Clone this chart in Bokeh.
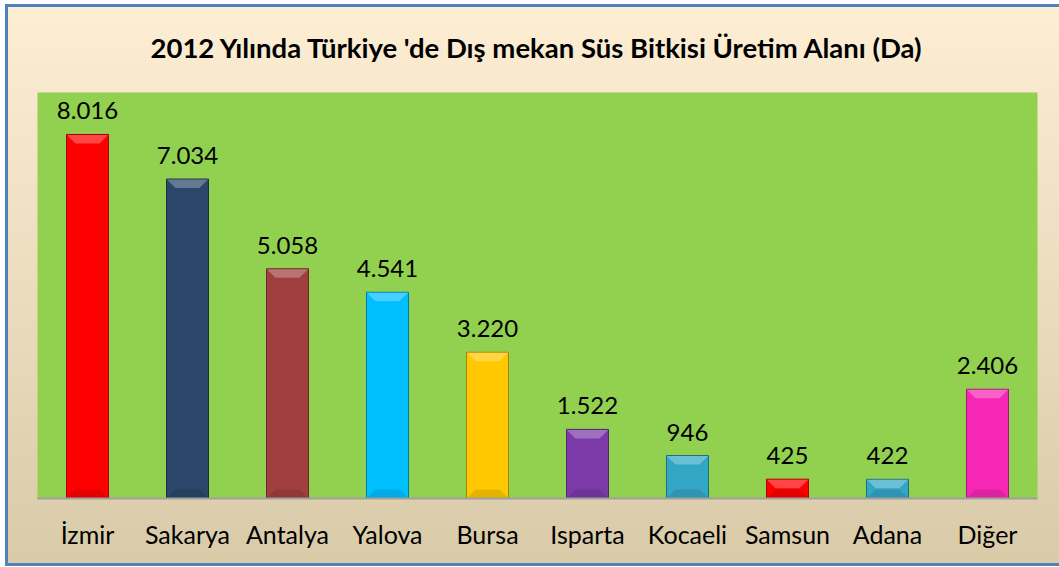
from bokeh.plotting import figure
from bokeh.models import ColumnDataSource, FixedTicker
from bokeh.core.properties import value
from bokeh.embed import file_html
from bokeh.resources import INLINE

# ---- data ----
categories = ["İzmir", "Sakarya", "Antalya", "Yalova", "Bursa",
              "Isparta", "Kocaeli", "Samsun", "Adana", "Diğer"]
areas = [8016, 7034, 5058, 4541, 3220, 1522, 946, 425, 422, 2406]
bar_colors = ["#FF0000", "#2B4669", "#A13F3F", "#00BFFF", "#FFC800",
              "#7B3AA8", "#33A6C6", "#FF0000", "#33A6C6", "#F527B4"]
title_text = "2012 Yılında Türkiye 'de Dış mekan Süs Bitkisi Üretim Alanı (Da)"
y_max = 8940

# ---- helpers ----
def hex2rgb(c):
    c = c.lstrip("#")
    return tuple(int(c[i:i + 2], 16) for i in (0, 2, 4))

def rgb2hex(t):
    return "#%02X%02X%02X" % tuple(max(0, min(255, int(round(v)))) for v in t)

def mix(c1, c2, t):
    a, b = hex2rgb(c1), hex2rgb(c2)
    return rgb2hex([a[i] + (b[i] - a[i]) * t for i in range(3)])

W, H = 1059, 567
BL, BR, BT, BB = 37, 22, 92, 69
frame_w = W - BL - BR
frame_h = H - BT - BB
n = len(categories)

p = figure(width=W, height=H, output_backend="svg", toolbar_location=None,
           x_range=(0, n), y_range=(0, y_max),
           min_border_left=BL, min_border_right=BR,
           min_border_top=BT, min_border_bottom=BB)

# transparent canvas border: gradient + blue frame come from host element CSS
p.border_fill_color = None
p.background_fill_color = "#92D050"
p.outline_line_color = None
p.styles = {
    "background": ("linear-gradient(to bottom, #FDEED4, #D9CBA8) 8px 7px / 1051px 556px no-repeat, "
                   "linear-gradient(#4F81BD, #4F81BD) 5px 4px / 1054px 562px no-repeat, "
                   "#FFFFFF"),
}

xs = [i + 0.5 for i in range(n)]
labels = [f"{v:,}".replace(",", ".") for v in areas]
dark = [mix(c, "#000000", 0.35) for c in bar_colors]
shade = [mix(c, "#000000", 0.12) for c in bar_colors]
light = [mix(c, "#FFFFFF", 0.30) for c in bar_colors]

bw = 0.42
src = ColumnDataSource(dict(x=xs, top=areas, color=bar_colors, dark=dark,
                            label=labels))
p.vbar(x="x", top="top", bottom=0, width=bw, fill_color="color",
       line_color="dark", line_width=1, source=src)

# bevel: light top facet, slightly darker bottom facet
units_per_px_y = y_max / frame_h
units_per_px_x = n / frame_w
bh_px, bd_px = 9, 9
txs, tys, bxs, bys = [], [], [], []
for x, t in zip(xs, areas):
    bh = min(bh_px * units_per_px_y, t * 0.5)
    d = min(bd_px * units_per_px_x, bw / 2 - 0.02)
    e = 0.004
    eps = 0.5 * units_per_px_y
    txs.append([x - bw / 2 + e, x + bw / 2 - e, x + bw / 2 - d, x - bw / 2 + d])
    tys.append([t - eps, t - eps, t - bh, t - bh])
    bxs.append([x - bw / 2 + e, x + bw / 2 - e, x + bw / 2 - d, x - bw / 2 + d])
    bys.append([eps, eps, bh, bh])
p.patches(bxs, bys, fill_color=shade, line_color=None, fill_alpha=0.9)
p.patches(txs, tys, fill_color=light, line_color=None, fill_alpha=0.9)

# value labels
p.text(x="x", y="top", text="label", source=src, text_align="center",
       text_baseline="bottom", y_offset=-15,
       text_font=value("Lato"), text_font_size="24px", text_color="#000000")

# axes
p.yaxis.visible = False
p.xgrid.visible = False
p.ygrid.visible = False
ax = p.xaxis[0]
ax.ticker = FixedTicker(ticks=xs)
ax.major_label_overrides = {x: c for x, c in zip(xs, categories)}
ax.major_tick_line_color = None
ax.minor_tick_line_color = None
ax.axis_line_color = "#A0A0A0"
ax.axis_line_width = 2
ax.major_label_text_font = "Lato"
ax.major_label_text_font_size = "25px"
ax.major_label_text_color = "#000000"
ax.major_label_standoff = 14

# title
p.title.text = title_text
p.title.align = "center"
p.title.text_font = "Lato"
p.title.text_font_style = "bold"
p.title.text_font_size = "27.5px"
p.title.text_color = "#000000"
p.title.standoff = 57

open("out.html", "w").write(file_html(p, INLINE))
